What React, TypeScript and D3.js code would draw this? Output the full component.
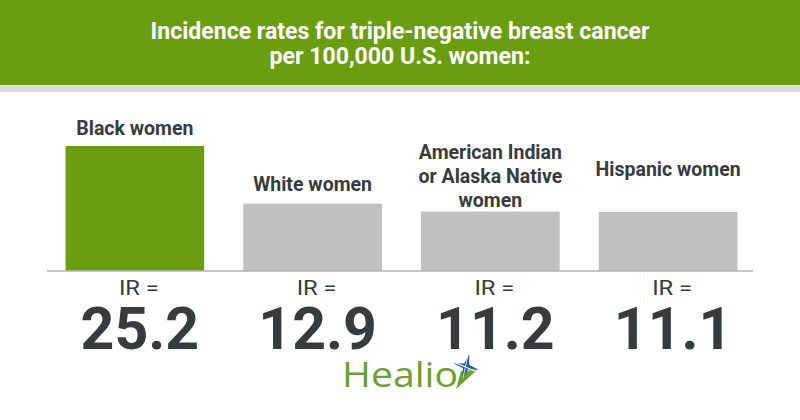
import * as d3 from "d3";

// Chart data
const titleLines = [
  "Incidence rates for triple-negative breast cancer",
  "per 100,000 U.S. women:",
];
const categories = ["Black women", "White women", "American Indian or Alaska Native women", "Hispanic women"];
const categoryLines = [
  ["Black women"],
  ["White women"],
  ["American Indian", "or Alaska Native", "women"],
  ["Hispanic women"],
];
const rates = [25.2, 12.9, 11.2, 11.1];
const highlighted = "Black women";
const rateLabel = "IR =";

export default function App() {
  const width = 800;
  const height = 420;
  const baseY = 271;

  const green = "#6a9e10";
  const grey = "#c1c1c1";
  const ink = "#363c3e";

  const x = d3
    .scaleBand<string>()
    .domain(categories)
    .range([46, 757])
    .paddingInner(0.22)
    .paddingOuter(0.11);

  // the picture's bars are not strictly proportional, so the floor sits a little below 0
  const y = d3.scaleLinear().domain([-1.5, 25.2]).range([baseY, 146]);

  // gap between the last label line and the bar top (Hispanic label is lifted)
  const labelGap = [11, 13, 5, 36];
  const lineH = 24;

  // Healio star
  const starPts: [number, number][] = [];
  for (let i = 0; i < 8; i++) {
    const a = ((-75 + i * 45) * Math.PI) / 180;
    const r = i % 2 === 0 ? 13 : 3.6;
    starPts.push([466, 366.5]);
    starPts.pop();
    starPts.push([466 + r * Math.cos(a), 366.5 + r * Math.sin(a)]);
  }
  const starPath = d3.line()(starPts) + "Z";

  return (
    <svg
      width={width}
      height={height}
      style={{ position: "absolute", left: 0, top: 0, background: "#fff" }}
    >
      <rect x={0} y={0} width={width} height={85} fill={green} />
      <rect x={0} y={85} width={width} height={7} fill="#dcdcdc" />

      {titleLines.map((t, i) => (
        <text
          key={t}
          x={400}
          y={39 + i * 25}
          textAnchor="middle"
          fill="#fff"
          fontFamily="Roboto"
          fontWeight={700}
          fontSize={24}
          textLength={i === 0 ? 499 : 261}
          lengthAdjust="spacingAndGlyphs"
        >
          {t}
        </text>
      ))}

      {categories.map((c, i) => {
        const bx = x(c) ?? 0;
        const cx = bx + x.bandwidth() / 2;
        const top = y(rates[i]);
        const lines = categoryLines[i];
        const lastBase = top - labelGap[i];
        return (
          <g key={c}>
            <rect
              x={bx}
              y={top}
              width={x.bandwidth()}
              height={y(-1.5) - top}
              fill={c === highlighted ? green : grey}
            />
            {lines.map((l, j) => (
              <text
                key={l}
                x={cx}
                y={lastBase - (lines.length - 1 - j) * lineH}
                textAnchor="middle"
                fill={ink}
                fontFamily="Roboto"
                fontWeight={700}
                fontSize={19.5}
              >
                {l}
              </text>
            ))}
            <text
              x={cx + 4}
              y={295}
              textAnchor="middle"
              fill={ink}
              fontFamily="Roboto"
              fontWeight={400}
              fontSize={21}
              textLength={40}
              lengthAdjust="spacingAndGlyphs"
            >
              {rateLabel}
            </text>
            <text
              x={cx + 5}
              y={349}
              textAnchor="middle"
              fill={ink}
              fontFamily="Roboto"
              fontWeight={700}
              fontSize={59}
            >
              {rates[i].toFixed(1)}
            </text>
          </g>
        );
      })}

      <line x1={47} x2={753} y1={baseY} y2={baseY} stroke="#b3b3b3" strokeWidth={1.5} />

      {/* logo */}
      <text
        x={342}
        y={387}
        fill="#6aa22d"
        fontFamily="Open Sans"
        fontSize={34}
        textLength={116}
        lengthAdjust="spacingAndGlyphs"
      >
        Healio
      </text>
      <path d="M461,371 L477,370 L456,389 Z" fill="#6aa22d" />
      <path d={starPath} fill="#1f5f9e" />
      <line x1={451} y1={361} x2={480} y2={373} stroke="#fff" strokeWidth={1.2} />
      <line x1={468} y1={355} x2={463} y2={378} stroke="#fff" strokeWidth={0.8} />
    </svg>
  );
}
